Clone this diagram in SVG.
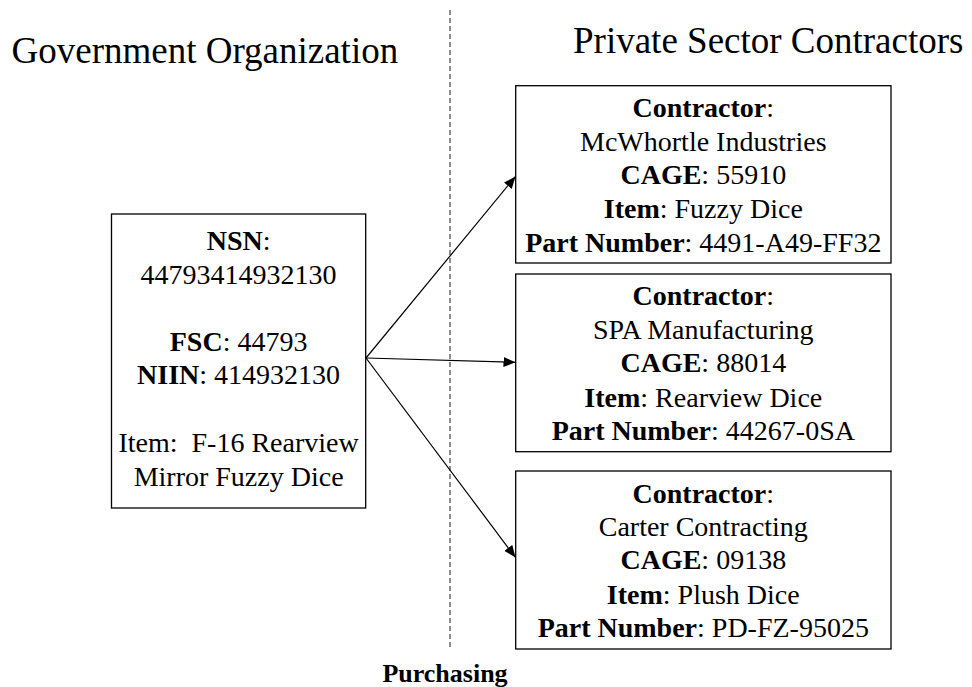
<svg xmlns="http://www.w3.org/2000/svg" width="972" height="687" viewBox="0 0 972 687">
  <style>
    .t { fill: #000; }
    .title { font-size: 37px; }
    .body { font-size: 28px; text-anchor: middle; }
    .b { font-weight: bold; }
    .box { fill: #fff; stroke: #000; stroke-width: 1.3; }
    .conn { stroke: #000; stroke-width: 1.2; fill: none; marker-end: url(#arrow); }
    .divider { stroke: #444; stroke-width: 1.2; stroke-dasharray: 5 3; }
  </style>
  <defs>
    <marker id="arrow" viewBox="0 0 12 10" refX="12" refY="5" markerWidth="12" markerHeight="10" markerUnits="userSpaceOnUse" orient="auto">
      <path d="M0,0 L12,5 L0,10 Z" fill="#000"/>
    </marker>
  </defs>

  <rect width="972" height="687" fill="#fff"/>

  <g font-family="Liberation Serif, Times New Roman, Times, serif">
    <!-- section headings -->
    <text class="t title" x="11.5" y="62.7">Government Organization</text>
    <text class="t title" x="573" y="53">Private Sector Contractors</text>

    <!-- divider between the two sides -->
    <line class="divider" x1="450" y1="10" x2="450" y2="648"/>
    <text class="t b" x="445" y="681.5" font-size="26" text-anchor="middle">Purchasing</text>

    <!-- connectors -->
    <g id="connectors">
      <line class="conn" x1="366" y1="358" x2="515.5" y2="176.5"/>
      <line class="conn" x1="366" y1="358" x2="515.5" y2="362.3"/>
      <line class="conn" x1="366" y1="358" x2="515.5" y2="557.5"/>
    </g>

    <!-- NSN item -->
    <g id="nsn">
      <rect class="box" x="111.5" y="214" width="254.2" height="294"/>
      <text class="t body" x="238.6" y="250"><tspan class="b">NSN</tspan>:</text>
      <text class="t body" x="238.6" y="283.6">44793414932130</text>
      <text class="t body" x="238.6" y="350.8"><tspan class="b">FSC</tspan>: 44793</text>
      <text class="t body" x="238.6" y="384.4"><tspan class="b">NIIN</tspan>: 414932130</text>
      <text class="t body" x="238.6" y="452" xml:space="preserve">Item:  F-16 Rearview</text>
      <text class="t body" x="238.6" y="486">Mirror Fuzzy Dice</text>
    </g>

    <!-- contractor 1 -->
    <g id="contractor-mcwhortle">
      <rect class="box" x="515.7" y="85.7" width="375.3" height="177.3"/>
      <text class="t body" x="703.3" y="117.3"><tspan class="b">Contractor</tspan>:</text>
      <text class="t body" x="703.3" y="150.5">McWhortle Industries</text>
      <text class="t body" x="703.3" y="184"><tspan class="b">CAGE</tspan>: 55910</text>
      <text class="t body" x="703.3" y="218"><tspan class="b">Item</tspan>: Fuzzy Dice</text>
      <text class="t body" x="703.3" y="251.7"><tspan class="b">Part Number</tspan>: 4491-A49-FF32</text>
    </g>

    <!-- contractor 2 -->
    <g id="contractor-spa">
      <rect class="box" x="515.7" y="274" width="375.3" height="177.7"/>
      <text class="t body" x="703.3" y="305"><tspan class="b">Contractor</tspan>:</text>
      <text class="t body" x="703.3" y="338.5">SPA Manufacturing</text>
      <text class="t body" x="703.3" y="372"><tspan class="b">CAGE</tspan>: 88014</text>
      <text class="t body" x="703.3" y="406.5"><tspan class="b">Item</tspan>: Rearview Dice</text>
      <text class="t body" x="703.3" y="440"><tspan class="b">Part Number</tspan>: 44267-0SA</text>
    </g>

    <!-- contractor 3 -->
    <g id="contractor-carter">
      <rect class="box" x="515.7" y="471" width="375.3" height="178"/>
      <text class="t body" x="703.3" y="502.7"><tspan class="b">Contractor</tspan>:</text>
      <text class="t body" x="703.3" y="535.5">Carter Contracting</text>
      <text class="t body" x="703.3" y="568.5"><tspan class="b">CAGE</tspan>: 09138</text>
      <text class="t body" x="703.3" y="604"><tspan class="b">Item</tspan>: Plush Dice</text>
      <text class="t body" x="703.3" y="637"><tspan class="b">Part Number</tspan>: PD-FZ-95025</text>
    </g>
  </g>
</svg>
